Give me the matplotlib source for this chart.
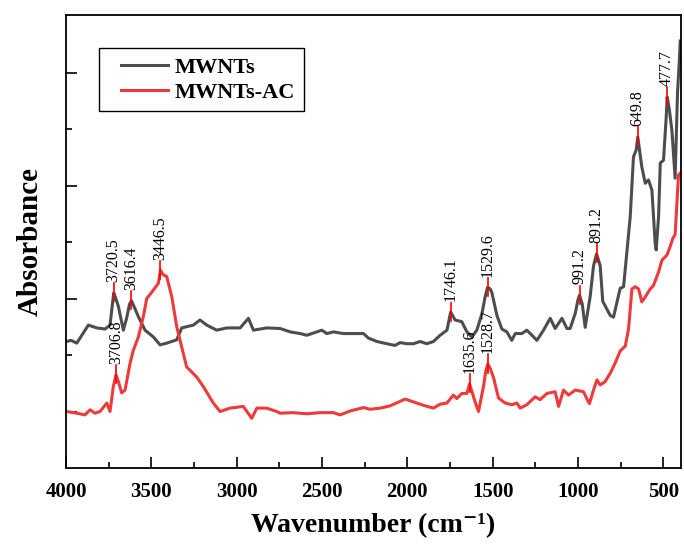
import numpy as np
import matplotlib
matplotlib.use('Agg')
import matplotlib.pyplot as plt
from matplotlib.ticker import MultipleLocator
from matplotlib.legend_handler import HandlerLine2D

# === FTIR spectra (wavenumber in cm-1, absorbance in a.u.) ===
mwnt_wn = [3996, 3970, 3937, 3869, 3820, 3771, 3742, 3730, 3720.5, 3708, 3693, 3664, 3645, 3628, 3616.4,
           3600, 3576, 3537, 3488, 3449, 3410, 3351, 3322, 3254, 3215, 3175, 3117, 3058,
           2980, 2931, 2902, 2824, 2746, 2706, 2687, 2628, 2589, 2550, 2501, 2472,
           2433, 2394, 2375, 2257, 2228, 2179, 2120, 2072, 2042, 2003, 1964, 1925,
           1886, 1847, 1808, 1768, 1746.1, 1720, 1681, 1651, 1622, 1593, 1563, 1545, 1529.6,
           1515, 1505, 1475, 1446, 1417, 1388, 1368, 1329, 1300, 1270, 1241, 1202, 1163,
           1134, 1094, 1065, 1046, 1016, 1000, 991.2, 975, 958, 929, 909, 891.2, 870, 855, 811, 792,
           753, 733, 694, 675, 659, 649.8, 626, 606, 587, 567, 548, 542,
           528, 518, 499, 483, 477.7, 465, 450, 431, 417, 407, 401]
mwnt_abs = [2.24, 2.26, 2.21, 2.53, 2.48, 2.46, 2.53, 2.85, 3.10, 3.00, 2.86, 2.44, 2.65, 2.90, 2.96,
            2.85, 2.68, 2.44, 2.32, 2.18, 2.21, 2.27, 2.48, 2.53, 2.62, 2.53, 2.44, 2.48,
            2.48, 2.65, 2.44, 2.48, 2.47, 2.43, 2.41, 2.38, 2.35, 2.39, 2.44, 2.38,
            2.41, 2.39, 2.38, 2.38, 2.30, 2.24, 2.20, 2.17, 2.22, 2.20, 2.20, 2.24,
            2.20, 2.24, 2.35, 2.44, 2.76, 2.62, 2.59, 2.41, 2.32, 2.44, 2.73, 3.02, 3.20,
            3.17, 3.11, 2.70, 2.46, 2.41, 2.26, 2.38, 2.38, 2.44, 2.35, 2.26, 2.44, 2.65,
            2.47, 2.65, 2.47, 2.47, 2.74, 2.98, 3.06, 2.90, 2.49, 3.03, 3.58, 3.79, 3.58, 2.95, 2.70, 2.67,
            3.18, 3.21, 4.45, 5.51, 5.63, 5.86, 5.33, 5.04, 5.10, 4.92, 3.98, 3.86,
            4.45, 5.40, 5.45, 6.22, 6.57, 6.35, 5.98, 5.13, 6.64, 7.17, 7.56]

ac_wn = [3996, 3937, 3889, 3859, 3830, 3801, 3761, 3742, 3723, 3706.8, 3690, 3674, 3654,
         3625, 3606, 3576, 3547, 3527, 3488, 3459, 3446.5, 3430, 3410, 3380, 3351, 3322,
         3293, 3234, 3195, 3137, 3097, 3039, 2961, 2912, 2882, 2824, 2765, 2746,
         2668, 2589, 2511, 2433, 2394, 2335, 2257, 2218, 2159, 2101, 2013, 1964,
         1906, 1847, 1808, 1768, 1739, 1730, 1710, 1681, 1651, 1635.6, 1603, 1583,
         1554, 1540, 1528.7, 1517, 1495, 1466, 1427, 1388, 1358, 1339, 1300, 1251, 1222, 1182,
         1134, 1114, 1085, 1056, 1016, 968, 939, 933, 909, 889, 870, 841,
         811, 782, 753, 723, 704, 684, 665, 645, 626, 606, 577, 558,
         528, 508, 479, 460, 444, 431, 421, 411, 401]
ac_abs = [1.00, 0.97, 0.94, 1.03, 0.97, 1.00, 1.15, 1.00, 1.44, 1.65, 1.50, 1.33, 1.38,
          1.85, 2.08, 2.32, 2.68, 3.00, 3.15, 3.27, 3.50, 3.42, 3.39, 3.03, 2.50, 2.14,
          1.79, 1.61, 1.44, 1.15, 1.00, 1.06, 1.09, 0.88, 1.06, 1.06, 1.00, 0.97,
          0.98, 0.96, 0.98, 0.98, 0.94, 1.01, 1.07, 1.04, 1.06, 1.10, 1.22, 1.17,
          1.11, 1.06, 1.13, 1.15, 1.26, 1.29, 1.23, 1.32, 1.32, 1.49, 1.17, 1.00,
          1.44, 1.72, 1.84, 1.78, 1.60, 1.24, 1.15, 1.12, 1.15, 1.06, 1.12, 1.26, 1.21, 1.32,
          1.35, 1.09, 1.38, 1.29, 1.38, 1.35, 1.17, 1.14, 1.38, 1.56, 1.47, 1.53,
          1.68, 1.86, 2.07, 2.16, 2.46, 3.17, 3.21, 3.17, 2.94, 3.03, 3.17, 3.23,
          3.47, 3.68, 3.77, 3.92, 4.07, 4.13, 4.66, 5.19, 5.22]

# labelled peaks
mwnt_peaks = [3720.5, 3616.4, 1746.1, 1529.6, 991.2, 891.2, 649.8, 477.7]
ac_peaks = [3706.8, 3446.5, 1635.6, 1528.7]

gray = '#4d4d4d'
red = '#ee3a3a'
serif = 'Liberation Serif'

plt.rcParams['font.family'] = [serif, 'DejaVu Serif']

fig = plt.figure(figsize=(6.84, 5.48), dpi=100)
ax = fig.add_axes([0.0965, 0.146, 0.899, 0.8266])

ax.plot(mwnt_wn, mwnt_abs, color=gray, lw=2.2, label='MWNTs')
ax.plot(ac_wn, ac_abs, color=red, lw=2.2, label='MWNTs-AC')

# === peak markers: short red tick + rotated value ===
def mark_peaks(peaks, wn, ab):
    wn_r = np.array(wn)[::-1]
    ab_r = np.array(ab)[::-1]
    for p in peaks:
        y = np.interp(p, wn_r, ab_r)
        ax.plot([p, p], [y - 0.15, y + 0.17], color='red', lw=1.2)
        ax.text(p, y + 0.19, f'{p:.1f}', rotation=90, ha='center', va='bottom',
                fontsize=11.5, family=serif)

mark_peaks(mwnt_peaks, mwnt_wn, mwnt_abs)
mark_peaks(ac_peaks, ac_wn, ac_abs)

ax.set_xlim(4000, 397)
ax.set_ylim(0, 8.02)
ax.xaxis.set_major_locator(MultipleLocator(500))
ax.xaxis.set_minor_locator(MultipleLocator(250))
ax.set_yticks([1, 3, 5, 7])
ax.set_yticks([2, 4, 6], minor=True)
ax.set_yticklabels([])
ax.tick_params(which='both', direction='in', width=1.2, top=False, right=False)
ax.tick_params(which='major', length=8, pad=10, labelsize=15)
ax.tick_params(which='minor', length=4)
for lbl in ax.get_xticklabels():
    lbl.set_fontweight('bold')
for s in ax.spines.values():
    s.set_linewidth(1.3)

ax.set_xlabel('Wavenumber (cm\u207b\u00b9)', fontsize=20, fontweight='bold', labelpad=8)
ax.set_ylabel('Absorbance', fontsize=21, fontweight='bold', labelpad=6)

leg = ax.legend(loc='upper left', bbox_to_anchor=(0.054, 0.927), borderaxespad=0,
                fancybox=False, edgecolor='black', framealpha=1,
                prop={'family': serif, 'weight': 'bold', 'size': 16},
                handlelength=2.7, handletextpad=0.3, labelspacing=0.2, borderpad=0.4,
                handler_map={plt.Line2D: HandlerLine2D(xpad=0.6)})
leg.get_frame().set_linewidth(1.0)

plt.savefig('out.png', dpi=100)
